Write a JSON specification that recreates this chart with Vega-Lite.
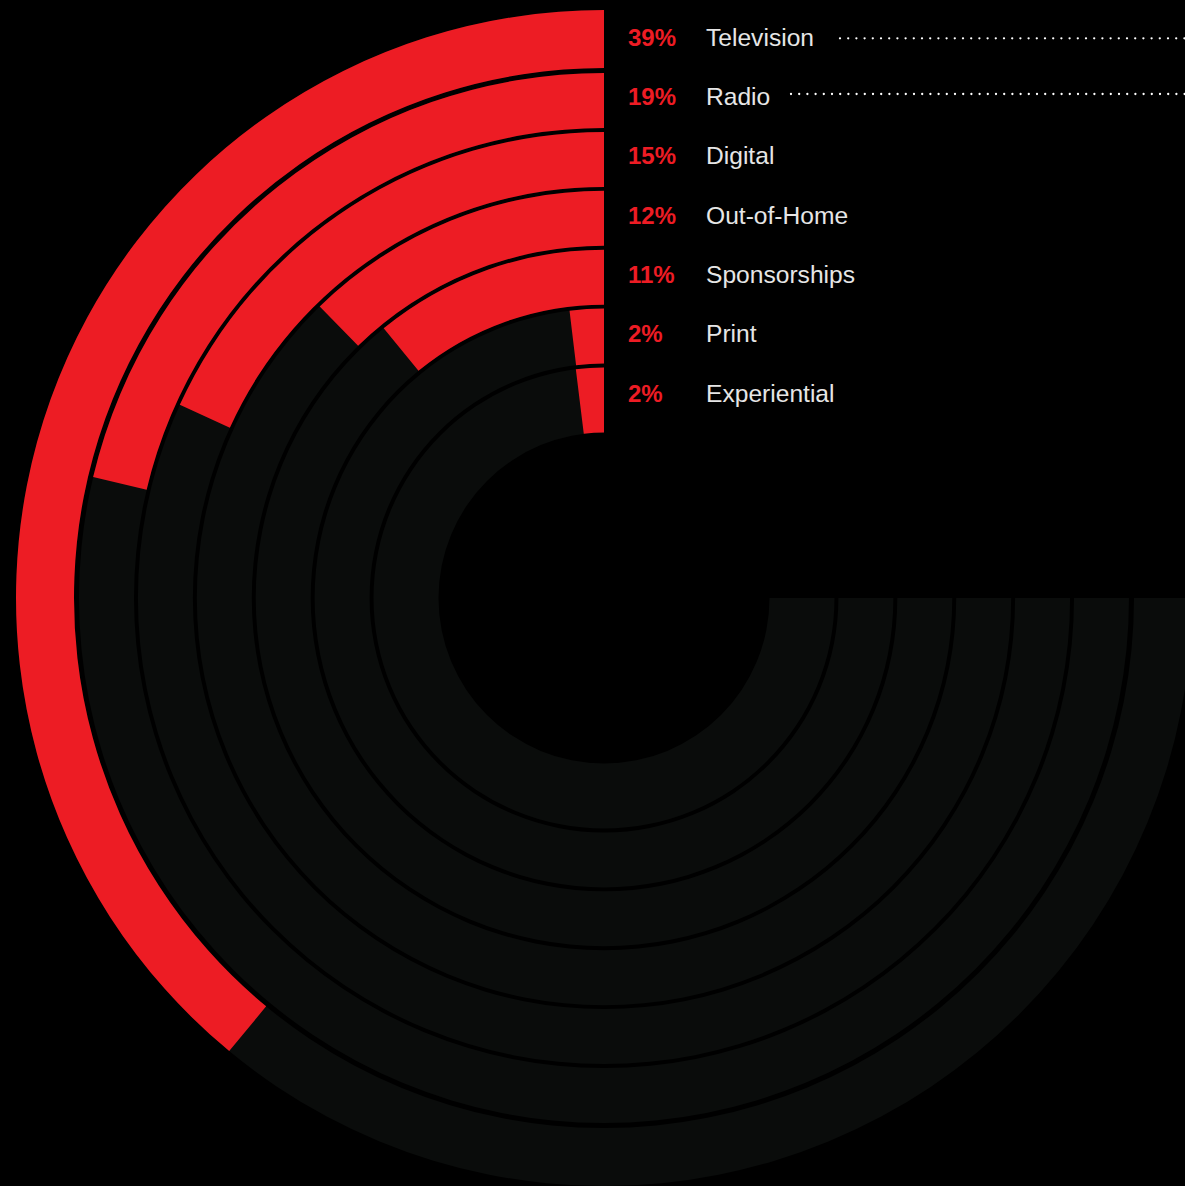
{
  "$schema": "https://vega.github.io/schema/vega-lite/v6.json",
  "width": 1162,
  "height": 1176,
  "autosize": {"type": "none"},
  "padding": {"left": 23, "top": 10, "right": 0, "bottom": 0},
  "background": "#000000",
  "config": {"view": {"stroke": null}},
  "data": {
    "values": [
      {"channel": "Television", "pct": 0.39, "share": 39.0, "ring": 7},
      {"channel": "Radio", "pct": 0.19, "share": 21.3, "ring": 6},
      {"channel": "Digital", "pct": 0.15, "share": 18.2, "ring": 5},
      {"channel": "Out-of-Home", "pct": 0.12, "share": 12.3, "ring": 4},
      {"channel": "Sponsorships", "pct": 0.11, "share": 10.9, "ring": 3},
      {"channel": "Print", "pct": 0.02, "share": 1.9, "ring": 2},
      {"channel": "Experiential", "pct": 0.02, "share": 1.95, "ring": 1}
    ]
  },
  "layer": [
    {
      "mark": {"type": "arc", "color": "#0a0c0b", "radius2Offset": {"expr": "datum.ring == 1 ? -65 : (datum.ring == 7 ? -58 : -55)"}},
      "encoding": {
        "theta": {"datum": 0, "type": "quantitative", "scale": {"domain": [0, 100], "range": [6.283185307, 0]}},
        "theta2": {"datum": 75},
        "radius": {"field": "ring", "type": "quantitative", "scale": {"type": "linear", "domain": [1, 6, 7], "range": [230.5, 525, 588], "zero": false}},
        "radius2": {"field": "ring"}
      }
    },
    {
      "mark": {"type": "arc", "color": "#ed1c24", "radius2Offset": {"expr": "datum.ring == 1 ? -65 : (datum.ring == 7 ? -58 : -55)"}},
      "encoding": {
        "theta": {"field": "share", "type": "quantitative", "stack": null, "scale": {"domain": [0, 100], "range": [6.283185307, 0]}},
        "theta2": {"datum": 0},
        "radius": {"field": "ring", "type": "quantitative", "scale": {"type": "linear", "domain": [1, 6, 7], "range": [230.5, 525, 588], "zero": false}},
        "radius2": {"field": "ring"}
      }
    },
    {
      "mark": {"type": "text", "align": "left", "baseline": "alphabetic", "dx": 24, "font": "Liberation Sans", "fontSize": 24, "fontWeight": "bold", "color": "#ed1c24"},
      "encoding": {
        "theta": {"datum": 0, "type": "quantitative"},
        "radius": {"field": "ring", "type": "quantitative", "scale": {"type": "linear", "domain": [1, 7], "range": [196.3, 552.3], "zero": false}},
        "text": {"field": "pct", "type": "quantitative", "format": ".0%"}
      }
    },
    {
      "mark": {"type": "text", "align": "left", "baseline": "alphabetic", "dx": 102, "font": "Liberation Sans", "fontSize": 24.6, "fontWeight": "normal", "color": "#e6e6e6"},
      "encoding": {
        "theta": {"datum": 0, "type": "quantitative"},
        "radius": {"field": "ring", "type": "quantitative", "scale": {"type": "linear", "domain": [1, 7], "range": [196.3, 552.3], "zero": false}},
        "text": {"field": "channel", "type": "nominal"}
      }
    },
    {
      "transform": [{"filter": {"field": "channel", "oneOf": ["Television", "Radio"]}}],
      "mark": {"type": "rule", "color": "#ffffff", "strokeWidth": 2.3, "strokeCap": "round", "strokeDash": [0, 8.2]},
      "encoding": {
        "x": {"field": "channel", "type": "nominal", "axis": null, "scale": {"type": "point", "domain": ["Radio", "Television"], "range": [768, 817], "padding": 0}},
        "x2": {"value": "width"},
        "y": {"field": "ring", "type": "quantitative", "axis": null, "scale": {"domain": [6, 7], "range": [84, 28.3], "zero": false}}
      }
    }
  ],
  "resolve": {"scale": {"radius": "independent"}}
}
